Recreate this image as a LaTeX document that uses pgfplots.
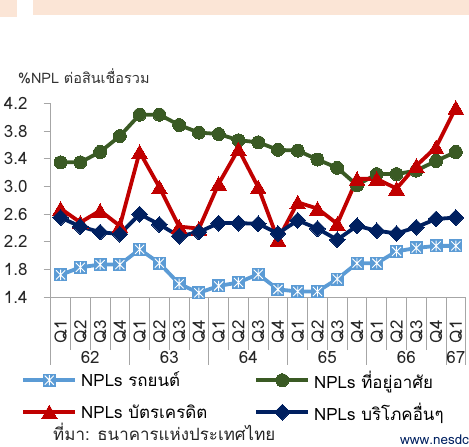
\documentclass[border=0pt]{standalone}
\usepackage{fontspec}
\setmainfont[Script=Thai]{Loma}
\usepackage{pgfplots}
\pgfplotsset{compat=1.18}

\definecolor{carblue}{RGB}{91,155,213}
\definecolor{housegreen}{RGB}{58,90,36}
\definecolor{cardred}{RGB}{192,0,0}
\definecolor{othernavy}{RGB}{0,32,96}
\definecolor{axgray}{RGB}{166,166,166}
\definecolor{peach}{RGB}{251,229,214}

% square with a white asterisk, as in the car series
\pgfdeclareplotmark{sqast}{%
  \pgfpathrectangle{\pgfpoint{-\pgfplotmarksize}{-\pgfplotmarksize}}{\pgfpoint{2\pgfplotmarksize}{2\pgfplotmarksize}}%
  \pgfusepath{fill}%
  \pgfsetstrokecolor{white}\pgfsetlinewidth{0.9bp}%
  \pgfpathmoveto{\pgfpoint{-0.7\pgfplotmarksize}{-0.7\pgfplotmarksize}}%
  \pgfpathlineto{\pgfpoint{0.7\pgfplotmarksize}{0.7\pgfplotmarksize}}%
  \pgfpathmoveto{\pgfpoint{-0.7\pgfplotmarksize}{0.7\pgfplotmarksize}}%
  \pgfpathlineto{\pgfpoint{0.7\pgfplotmarksize}{-0.7\pgfplotmarksize}}%
  \pgfpathmoveto{\pgfpoint{0pt}{-0.8\pgfplotmarksize}}%
  \pgfpathlineto{\pgfpoint{0pt}{0.8\pgfplotmarksize}}%
  \pgfusepath{stroke}}

\begin{document}
\begin{tikzpicture}
\useasboundingbox (0bp,0bp) rectangle (469bp,-447bp);
\fill[peach] (0bp,0bp) rectangle (17bp,-17bp);
\fill[peach] (33bp,0bp) rectangle (469bp,-15bp);

\node[anchor=base west, inner sep=0pt, font=\fontsize{14.5}{17}\selectfont, text=black!80]
  at (18bp,-83bp) {\%NPL ต่อสินเชื่อรวม};

\begin{axis}[
  at={(50.7bp,-297bp)}, anchor=south west,
  scale only axis, width=415bp, height=193.4bp,
  xmin=-0.5, xmax=20.5, ymin=1.4, ymax=4.2,
  clip=false,
  axis lines*=left,
  axis line style={axgray, line width=0.8bp},
  tick align=outside,
  ytick={1.4,1.8,2.2,2.6,3.0,3.4,3.8,4.2},
  /pgf/number format/fixed, /pgf/number format/fixed zerofill,
  /pgf/number format/precision=1, /pgf/number format/assume math mode=true,
  ytick style={axgray, line width=0.8bp},
  major tick length=7bp,
  yticklabel style={anchor=east, inner sep=0pt, xshift=-16bp},
  xtick={0,...,20},
  xticklabels={Q1,Q2,Q3,Q4,Q1,Q2,Q3,Q4,Q1,Q2,Q3,Q4,Q1,Q2,Q3,Q4,Q1,Q2,Q3,Q4,Q1},
  xtick style={draw=none},
  xticklabel style={yshift=-16bp, rotate=90, anchor=east, inner sep=0pt},
  extra x ticks={-0.5,0.5,...,20.5},
  extra x tick labels={},
  extra x tick style={major tick length=53bp, xtick style={draw=axgray, line width=0.8bp}},
  tick label style={font=\fontsize{17}{20}\selectfont, text=black!85},
  legend columns=2,
  legend cell align=left,
  legend style={draw=none, fill=none, inner sep=0pt,
    at={(axis description cs:-0.071,-0.37)}, anchor=north west,
    font=\fontsize{17}{20}\selectfont,
    row sep=9bp,
    nodes={inner sep=2bp},
    /tikz/every odd column/.append style={column sep=2bp},
    /tikz/every even column/.append style={column sep=45bp}},
  legend image code/.code={\draw[mark repeat=2,mark phase=2] plot coordinates {(0bp,0bp) (26bp,0bp) (52bp,0bp)};},
  every axis plot/.append style={line width=3.8bp},
]
\addplot[carblue, mark=sqast, mark size=6.5bp, mark options={line width=0.9bp}] coordinates {
(0,1.72) (1,1.83) (2,1.87) (3,1.87) (4,2.09) (5,1.89) (6,1.59) (7,1.46) (8,1.56) (9,1.61) (10,1.73)
(11,1.51) (12,1.48) (13,1.48) (14,1.66) (15,1.89) (16,1.89) (17,2.06) (18,2.11) (19,2.14) (20,2.14)};
\addlegendentry{NPLs รถยนต์}
\addplot[housegreen, mark=*, mark size=6.5bp, mark options={line width=0pt}] coordinates {
(0,3.35) (1,3.35) (2,3.50) (3,3.73) (4,4.04) (5,4.04) (6,3.89) (7,3.78) (8,3.76) (9,3.67) (10,3.64)
(11,3.53) (12,3.52) (13,3.39) (14,3.27) (15,3.02) (16,3.18) (17,3.18) (18,3.23) (19,3.37) (20,3.50)};
\addlegendentry{NPLs ที่อยู่อาศัย}
\addplot[cardred, mark=triangle*, mark size=9bp, mark options={line width=0pt, yshift=-2bp}] coordinates {
(0,2.68) (1,2.48) (2,2.65) (3,2.43) (4,3.50) (5,2.99) (6,2.42) (7,2.39) (8,3.04) (9,3.54) (10,2.99)
(11,2.23) (12,2.77) (13,2.68) (14,2.46) (15,3.11) (16,3.11) (17,2.97) (18,3.30) (19,3.57) (20,4.14)};
\addlegendentry{NPLs บัตรเครดิต}
\addplot[othernavy, mark=square*, mark size=5.6bp, mark options={rotate=45, line width=0pt}] coordinates {
(0,2.55) (1,2.42) (2,2.34) (3,2.31) (4,2.60) (5,2.45) (6,2.28) (7,2.34) (8,2.47) (9,2.47) (10,2.46)
(11,2.32) (12,2.51) (13,2.39) (14,2.23) (15,2.43) (16,2.36) (17,2.32) (18,2.41) (19,2.53) (20,2.55)};
\addlegendentry{NPLs บริโภคอื่นๆ}

\pgfplotsinvokeforeach{-0.5,3.5,7.5,11.5,15.5,19.5,20.5}{
  \draw[axgray, line width=0.8bp] (axis cs:#1,1.4) -- ++(0bp,-68bp);}
\foreach \xx/\yy in {1.5/62,5.5/63,9.5/64,13.5/65,17.5/66,20/67}{
  \edef\temp{\noexpand\node[font=\noexpand\fontsize{17}{20}\noexpand\selectfont, text=black!85] at (axis cs:\xx,1.4) [yshift=-60bp] {\yy};}
  \temp}
\end{axis}

\node[anchor=base west, inner sep=0pt, font=\fontsize{17}{20}\selectfont, text=black!85]
  at (53bp,-440bp) {ที่มา: ธนาคารแห่งประเทศไทย};
\node[anchor=base west, inner sep=0pt, font=\fontsize{13.5}{16}\selectfont, text=othernavy]
  at (400bp,-444bp) {www.nesdc.go.th};
\end{tikzpicture}
\end{document}
